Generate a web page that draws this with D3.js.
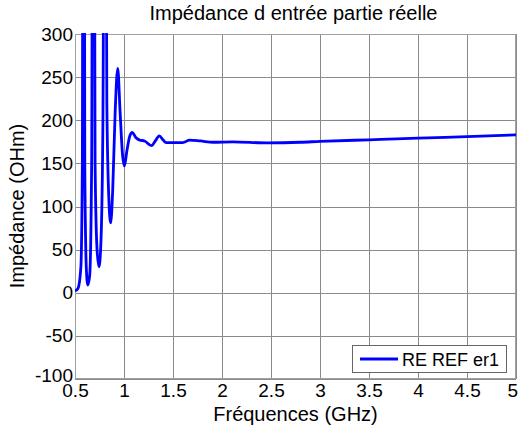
<!DOCTYPE html>
<html><head><meta charset="utf-8">
<script src="https://cdn.jsdelivr.net/npm/d3@7"></script>
<style>body{margin:0;background:#fff}svg{display:block}text{font-family:"Liberation Sans",Arial,sans-serif;fill:#000}</style>
</head><body>
<script>
const freqs = [0.5,0.53,0.56,0.575,0.587,0.60,0.615,0.63,0.65,0.67,0.687,0.705,0.725,0.745,0.765,0.785,0.806,0.825,0.845,0.864,0.885,0.91,0.936,0.96,0.985,1.004,1.03,1.06,1.085,1.12,1.16,1.21,1.28,1.32,1.36,1.40,1.43,1.55,1.6,1.67,1.78,1.91,2.11,2.46,2.8,3.0,3.5,3.78,4.0,4.5,5.0];
const reValues = [2,5,30,150,1200,150,30,9,20,150,1000,150,50,30,60,200,800,220,110,81,120,210,260,210,160,147,165,182,186,180,177,176,170.5,176,182,177,174,174,174,177,176,174.5,175,173.8,174.5,175.5,177.3,178.3,179.2,181,183];
const xTicks = [0.5,1,1.5,2,2.5,3,3.5,4,4.5,5];
const yTicks = [-100,-50,0,50,100,150,200,250,300];
const seriesName = "RE REF er1";

const W=518,H=430, L=75,R=516,T=34,B=379;
const svg=d3.select("body").append("svg").attr("width",W).attr("height",H);
const x=d3.scaleLinear().domain([0.5,5]).range([L,R]);
const y=d3.scaleLinear().domain([-100,300]).range([B,T]);
const fmt = d => String(d);

// grid
const g=svg.append("g");
g.selectAll(".vx").data(xTicks).enter().append("line")
 .attr("x1",d=>Math.round(x(d))+0.5).attr("x2",d=>Math.round(x(d))+0.5).attr("y1",T).attr("y2",B)
 .attr("stroke","#8a8a8a").attr("stroke-width",1);
g.selectAll(".hy").data(yTicks).enter().append("line")
 .attr("y1",d=>Math.round(y(d))+0.5).attr("y2",d=>Math.round(y(d))+0.5).attr("x1",L).attr("x2",R)
 .attr("stroke","#8a8a8a").attr("stroke-width",1);
svg.append("rect").attr("x",L+0.5).attr("y",T+0.5).attr("width",R-L-1).attr("height",B-T-1)
 .attr("fill","none").attr("stroke","#a0a0a0");

// axes labels via d3 axes
const xa=svg.append("g").attr("transform",`translate(0,${B})`)
 .call(d3.axisBottom(x).tickValues(xTicks).tickSize(0).tickPadding(5).tickFormat(fmt));
xa.select(".domain").remove();
xa.selectAll("text").style("font-size","19px").attr("font-family",null);
xa.selectAll(".tick").filter(d=>d===5).select("text").attr("text-anchor","end").attr("dx","1.5");
const ya=svg.append("g").attr("transform",`translate(${L},0)`)
 .call(d3.axisLeft(y).tickValues(yTicks).tickSize(0).tickPadding(2).tickFormat(fmt));
ya.select(".domain").remove();
ya.selectAll("text").style("font-size","19px").attr("font-family",null);
ya.selectAll(".tick").filter(d=>d===-100).select("text").attr("dy","0.12em");

// clip
svg.append("clipPath").attr("id","clip").append("rect").attr("x",L).attr("y",T-1).attr("width",R-L).attr("height",B-T+1);
const line=d3.line().x(d=>x(d[0])).y(d=>y(d[1])).curve(d3.curveMonotoneX);
svg.append("path").datum(freqs.map((f,i)=>[f,reValues[i]]))
 .attr("clip-path","url(#clip)").attr("d",line).attr("fill","none").attr("stroke","#0000ff").attr("stroke-width",2.8)
 .attr("stroke-linejoin","round");

// titles
svg.append("text").attr("x",(L+R)/2-2).attr("y",20).attr("text-anchor","middle").style("font-size","20px").text("Impédance d entrée partie réelle");
svg.append("text").attr("x",(L+R)/2).attr("y",421).attr("text-anchor","middle").style("font-size","20px").text("Fréquences (GHz)");
svg.append("text").attr("transform","translate(24,206) rotate(-90)").attr("text-anchor","middle").style("font-size","20px").text("Impédance (OHm)");

// legend
const lg=svg.append("g");
lg.append("rect").attr("x",352.5).attr("y",345.5).attr("width",154).attr("height",27).attr("fill","#fff").attr("stroke","#666");
lg.append("line").attr("x1",360).attr("x2",398).attr("y1",359).attr("y2",359).attr("stroke","#0000ff").attr("stroke-width",2.8);
lg.append("text").attr("x",402).attr("y",366).style("font-size","18px").text(seriesName);
</script>
</body></html>
